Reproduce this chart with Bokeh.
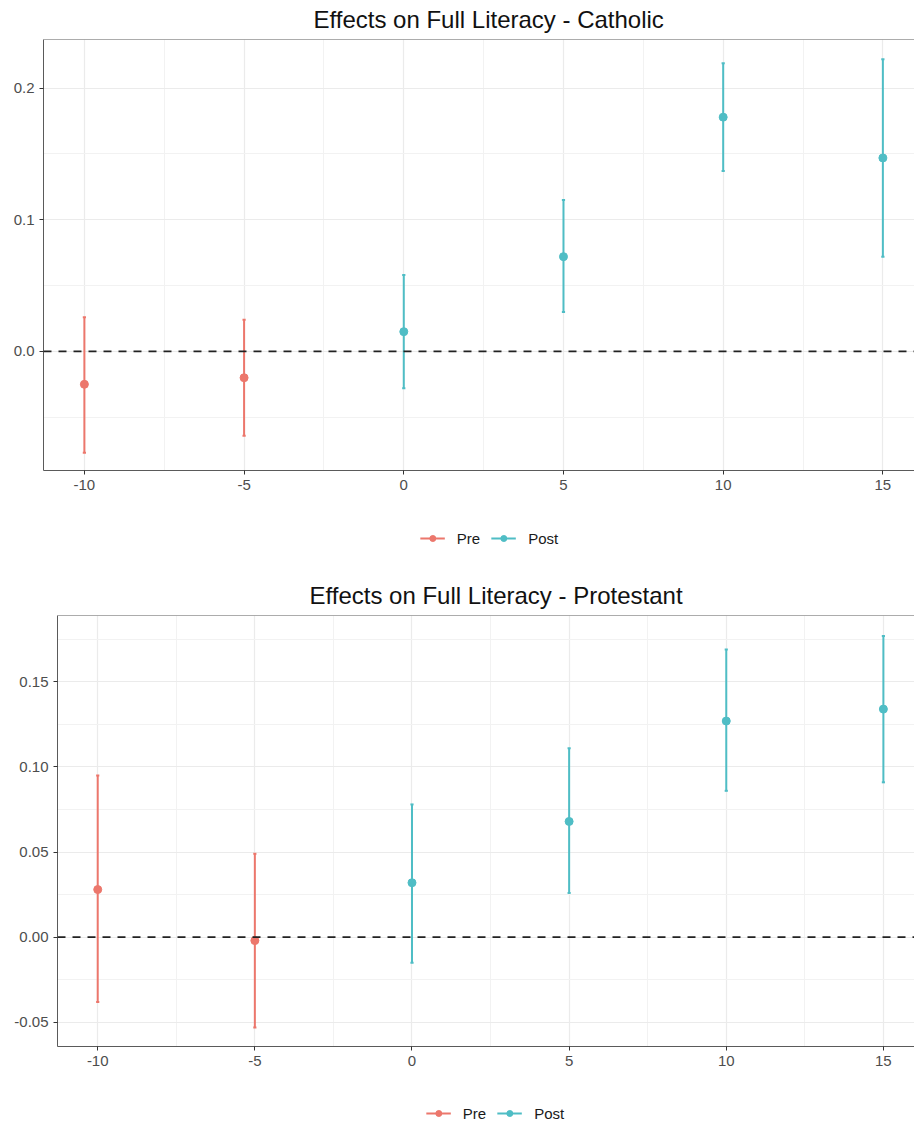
from bokeh.plotting import figure
from bokeh.models import (ColumnDataSource, FixedTicker, PrintfTickFormatter, Span,
                          Legend, LegendItem, Range1d)
from bokeh.embed import file_html
from bokeh.resources import INLINE

# ---- data ----
years = [-10, -5, 0, 5, 10, 15]
period = ["Pre", "Pre", "Post", "Post", "Post", "Post"]

cath_est = [-0.025, -0.020, 0.015, 0.072, 0.178, 0.147]
cath_lo = [-0.077, -0.064, -0.028, 0.030, 0.137, 0.072]
cath_hi = [0.026, 0.024, 0.058, 0.115, 0.219, 0.222]

prot_est = [0.028, -0.002, 0.032, 0.068, 0.127, 0.134]
prot_lo = [-0.038, -0.053, -0.015, 0.026, 0.086, 0.091]
prot_hi = [0.095, 0.049, 0.078, 0.111, 0.169, 0.177]

x_major = [-10, -5, 0, 5, 10, 15]
x_labels = ["-10", "-5", "0", "5", "10", "15"]
x_minor = [-7.5, -2.5, 2.5, 7.5, 12.5]

cath_y_major = [0.0, 0.1, 0.2]
cath_y_minor = [-0.05, 0.05, 0.15]
prot_y_major = [-0.05, 0.0, 0.05, 0.10, 0.15]
prot_y_minor = [-0.025, 0.025, 0.075, 0.125, 0.175]

groups = ["Pre", "Post"]
COLORS = {"Pre": "#EC776C", "Post": "#4FBDC5"}
FONT = "Liberation Sans"


def make_panel(title, est, lo, hi, ymaj, ymin, yrange, fmt, height, mtop, mbottom, mleft, toff):
    p = figure(width=914, height=height, output_backend="svg", toolbar_location=None,
               x_range=Range1d(-11.28, 15.99), y_range=Range1d(*yrange),
               min_border_left=mleft, min_border_right=0,
               min_border_top=mtop, min_border_bottom=mbottom)
    p.title.text = title
    p.title.align = "left"
    p.title.vertical_align = "top"
    p.title.offset = toff
    p.title.text_font = FONT
    p.title.text_font_size = "24px"
    p.title.text_font_style = "normal"
    p.title.text_color = "#111111"
    p.title.standoff = 10
    p.outline_line_color = None
    p.background_fill_color = "white"
    p.border_fill_color = "white"

    p.xaxis.ticker = FixedTicker(ticks=x_major, minor_ticks=x_minor)
    p.xaxis.major_label_overrides = {t: s for t, s in zip(x_major, x_labels)}
    p.yaxis.ticker = FixedTicker(ticks=ymaj, minor_ticks=ymin)
    p.yaxis.formatter = PrintfTickFormatter(format=fmt)
    for ax in (p.xaxis[0], p.yaxis[0]):
        ax.axis_line_color = "#5a5a5a"
        ax.axis_line_width = 1
        ax.major_tick_line_color = "#333333"
        ax.major_tick_in = 0
        ax.major_tick_out = 4
        ax.minor_tick_line_color = None
        ax.major_label_text_font = FONT
        ax.major_label_text_font_size = "15px"
        ax.major_label_text_color = "#4D4D4D"
        ax.major_label_standoff = 5

    p.xgrid.grid_line_color = "#EBEBEB"
    p.ygrid.grid_line_color = "#EBEBEB"
    p.xgrid.grid_line_width = 1.2
    p.ygrid.grid_line_width = 1.2
    p.xgrid.minor_grid_line_color = "#F2F2F2"
    p.ygrid.minor_grid_line_color = "#F2F2F2"

    p.add_layout(Span(location=yrange[1], dimension="width", line_color="#5a5a5a", line_width=1.2))
    p.add_layout(Span(location=0, dimension="width", line_color="#222222",
                      line_width=1.8, line_dash="8 7"))

    for grp in groups:
        idx = [i for i, g in enumerate(period) if g == grp]
        src = ColumnDataSource(dict(
            x=[years[i] for i in idx],
            y=[est[i] for i in idx],
            lo=[lo[i] for i in idx],
            hi=[hi[i] for i in idx],
            cl=[years[i] - 0.05 for i in idx],
            cr=[years[i] + 0.05 for i in idx],
        ))
        c = COLORS[grp]
        p.segment(x0="x", y0="lo", x1="x", y1="hi", source=src, line_color=c, line_width=2)
        p.segment(x0="cl", y0="lo", x1="cr", y1="lo", source=src, line_color=c, line_width=2)
        p.segment(x0="cl", y0="hi", x1="cr", y1="hi", source=src, line_color=c, line_width=2)
        p.scatter(x="x", y="y", source=src, size=8, fill_color=c, line_color=c)
    return p


def make_legend(height, mleft):
    q = figure(width=914, height=height, output_backend="svg", toolbar_location=None,
               x_range=Range1d(0, 1), y_range=Range1d(0, 1),
               min_border_left=mleft, min_border_right=0, min_border_top=0, min_border_bottom=0)
    q.axis.visible = False
    q.grid.visible = False
    q.outline_line_color = None
    items = []
    for grp in groups:
        c = COLORS[grp]
        # off-screen placeholder so the legend has a glyph to draw
        src = ColumnDataSource(dict(x=[-5.0], y=[-5.0]))
        seg = q.segment(x0="x", y0="y", x1="x", y1="y", source=src, line_color=c, line_width=2)
        sc = q.scatter(x="x", y="y", source=src, size=8, fill_color=c, line_color=c)
        items.append(LegendItem(label=grp, renderers=[seg, sc]))
    legend = Legend(items=items, orientation="horizontal", location="center",
                    border_line_color=None, background_fill_alpha=0,
                    label_text_font=FONT, label_text_font_size="15px",
                    label_text_color="#1a1a1a", glyph_width=25, glyph_height=15,
                    label_standoff=12, spacing=11, padding=2, margin=0)
    q.add_layout(legend, "center")
    return q


p1 = make_panel("Effects on Full Literacy - Catholic", cath_est, cath_lo, cath_hi,
                cath_y_major, cath_y_minor, (-0.0905, 0.2370), "%.1f",
                height=500, mtop=39, mbottom=30, mleft=43, toff=270)
l1 = make_legend(76, 64)
p2 = make_panel("Effects on Full Literacy - Protestant", prot_est, prot_lo, prot_hi,
                prot_y_major, prot_y_minor, (-0.0642, 0.1890), "%.2f",
                height=523, mtop=39, mbottom=53, mleft=57, toff=252)
l2 = make_legend(28, 76)

open("out.html", "w").write(file_html([p1, l1, p2, l2], INLINE))
